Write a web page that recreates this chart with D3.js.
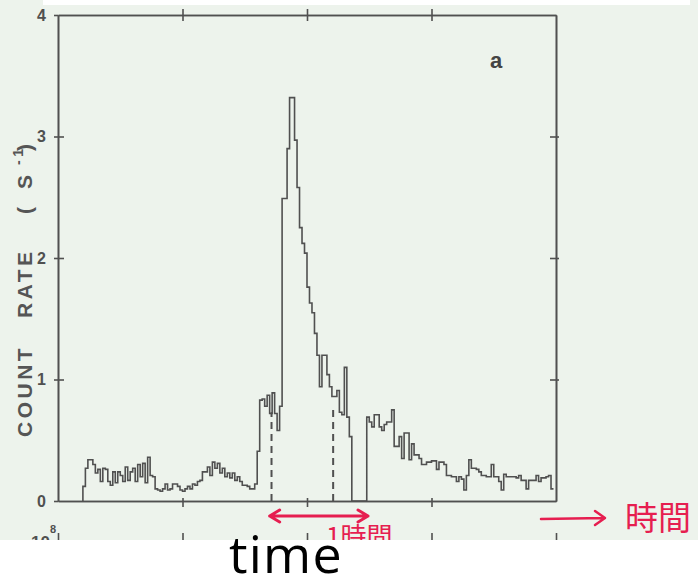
<!DOCTYPE html>
<html>
<head>
<meta charset="utf-8">
<style>
body { margin: 0; background: #fff; }
svg { display: block; }
</style>
</head>
<body>
<svg width="698" height="577"></svg>
<script src="https://cdn.jsdelivr.net/npm/d3@7/dist/d3.min.js"></script>
<script>
var width = 698, height = 577;
var ink = "#505050", red = "#e61e50";

// count rate (s^-1) per time bin, bins of 0.02 starting at t = 0.2
var binStart = 0.2, binWidth = 0.02;
var rates = [
  0.12,0.27,0.34,0.34,0.30,0.23,0.26,0.16,0.27,0.26,
  0.16,0.13,0.24,0.15,0.24,0.21,0.16,0.28,0.17,0.24,
  0.27,0.16,0.30,0.20,0.31,0.15,0.36,0.21,0.20,0.10,
  0.09,0.08,0.10,0.14,0.09,0.10,0.14,0.14,0.12,0.09,
  0.08,0.10,0.12,0.10,0.14,0.13,0.16,0.17,0.24,0.24,
  0.28,0.21,0.32,0.27,0.31,0.23,0.27,0.20,0.23,0.19,
  0.23,0.17,0.20,0.16,0.13,0.13,0.12,0.10,0.10,0.14,
  0.41,0.83,0.84,0.78,0.87,0.72,0.89,0.72,0.58,0.78,
  2.49,2.49,2.90,3.32,3.32,2.97,2.58,2.25,2.12,2.04,
  1.76,1.63,1.55,1.38,1.20,0.94,1.20,1.20,1.04,0.94,
  0.86,0.86,0.91,0.73,0.71,1.10,0.69,0.53,0,0,
  0,0,0,0,0.69,0.65,0.61,0.71,0.71,0.61,
  0.58,0.63,0.65,0.65,0.75,0.45,0.45,0.53,0.35,0.56,
  0.56,0.34,0.47,0.38,0.38,0.35,0.30,0.30,0.32,0.32,
  0.33,0.33,0.26,0.32,0.32,0.30,0.21,0.21,0.20,0.20,
  0.16,0.20,0.18,0.09,0.21,0.34,0.27,0.27,0.26,0.24,
  0.21,0.21,0.20,0.20,0.30,0.20,0.20,0.16,0.09,0.22,
  0.20,0.20,0.20,0.20,0.19,0.21,0.17,0.17,0.10,0.17,
  0.17,0.17,0.21,0.16,0.19,0.19,0.20,0.21,0.10
];
var yTicks = [0, 1, 2, 3, 4];
var xTicks = [1, 2, 3];
// dashed markers: time and height
var dashTimes = [1.715, 2.21];
var dashTops = [0.73, 0.77];
// 1 hour span (red annotation)
var hourSpan = [1.70, 2.49];

var svg = d3.select("svg");

var x = d3.scaleLinear().domain([0, 4]).range([58, 556]);
var y = d3.scaleLinear().domain([0, 4]).range([501, 15]);

// scanned page background
svg.append("rect").attr("width", width).attr("height", height).attr("fill", "#edf3ec");
svg.append("rect").attr("x", 43).attr("y", 0).attr("width", 647).attr("height", 5).attr("fill", "#fff");

// histogram as a step line
var pts = [{t: binStart, r: 0}];
rates.forEach(function(r, i) { pts.push({t: binStart + i * binWidth, r: r}); });
pts.push({t: binStart + rates.length * binWidth, r: rates[rates.length - 1]});

var line = d3.line()
  .x(function(d) { return x(d.t); })
  .y(function(d) { return y(d.r); })
  .curve(d3.curveStepAfter);

svg.append("path")
  .datum(pts)
  .attr("d", line)
  .attr("fill", "none")
  .attr("stroke", ink)
  .attr("stroke-width", 1.6);

// dashed markers
svg.selectAll(".dash")
  .data(dashTimes)
  .enter().append("line")
  .attr("class", "dash")
  .attr("x1", function(d) { return x(d); })
  .attr("x2", function(d) { return x(d); })
  .attr("y1", y(0))
  .attr("y2", function(d, i) { return y(dashTops[i]); })
  .attr("stroke", ink)
  .attr("stroke-width", 2)
  .attr("stroke-dasharray", "7,5");

// frame with crossing ticks
function styleAxis(g) {
  g.selectAll("path, line").attr("stroke", ink).attr("stroke-width", 1.6);
  g.selectAll("text").attr("fill", ink);
}

svg.append("g").attr("transform", "translate(58,0)")
  .call(d3.axisLeft(y).tickValues(yTicks).tickFormat(d3.format("d")).tickSize(4).tickPadding(8).tickSizeOuter(0))
  .call(styleAxis)
  .call(function(g) {
    g.selectAll("text").attr("font-family", "Liberation Sans, Arial, sans-serif")
      .attr("font-weight", "bold").attr("font-size", 16);
  });
svg.append("g").attr("transform", "translate(58,0)")
  .call(d3.axisRight(y).tickValues(yTicks.slice(1, 4)).tickSize(6).tickFormat("").tickSizeOuter(0))
  .call(styleAxis);

svg.append("g").attr("transform", "translate(556,0)")
  .call(d3.axisLeft(y).tickValues(yTicks.slice(1, 4)).tickSize(6).tickFormat("").tickSizeOuter(0))
  .call(styleAxis);
svg.append("g").attr("transform", "translate(556,0)")
  .call(d3.axisRight(y).tickValues(yTicks.slice(1, 4)).tickSize(3).tickFormat("").tickSizeOuter(0))
  .call(styleAxis);

svg.append("g").attr("transform", "translate(0,501)")
  .call(d3.axisBottom(x).tickValues(xTicks).tickSize(6).tickFormat("").tickSizeOuter(0))
  .call(styleAxis);
svg.append("g").attr("transform", "translate(0,501)")
  .call(d3.axisTop(x).tickValues(xTicks).tickSize(3).tickFormat("").tickSizeOuter(0))
  .call(styleAxis);

svg.append("g").attr("transform", "translate(0,15)")
  .call(d3.axisTop(x).tickValues(xTicks).tickSize(6).tickFormat("").tickSizeOuter(0))
  .call(styleAxis);
svg.append("g").attr("transform", "translate(0,15)")
  .call(d3.axisBottom(x).tickValues(xTicks).tickSize(6).tickFormat("").tickSizeOuter(0))
  .call(styleAxis);

// panel label
svg.append("text")
  .attr("x", x(3.52)).attr("y", 68)
  .attr("text-anchor", "middle")
  .attr("font-family", "Liberation Sans, Arial, sans-serif")
  .attr("font-weight", "bold").attr("font-size", 22)
  .attr("fill", "#444")
  .text("a");

// y axis title, letter-spaced and rotated
var yTitle = [
  {s: "COUNT", pos: 437, size: 21, dx: 0},
  {s: "RATE", pos: 318, size: 21, dx: 0},
  {s: "(", pos: 214, size: 21, dx: 0},
  {s: "S", pos: 189, size: 21, dx: 0},
  {s: "-1", pos: 165, size: 14, dx: -9},
  {s: ")", pos: 151, size: 21, dx: 0}
];
svg.selectAll(".ytitle")
  .data(yTitle)
  .enter().append("text")
  .attr("class", "ytitle")
  .attr("transform", function(d) { return "translate(" + (32 + d.dx) + "," + d.pos + ") rotate(-90)"; })
  .attr("font-family", "Liberation Sans, Arial, sans-serif")
  .attr("font-weight", "bold")
  .attr("font-size", function(d) { return d.size; })
  .attr("letter-spacing", 3.5)
  .attr("fill", "#555")
  .text(function(d) { return d.s; });

// top of the lower panel (cut off)
svg.append("g").attr("transform", "translate(0,541)")
  .call(d3.axisTop(x).tickValues([0, 1, 2, 3, 4]).tickSize(8).tickFormat("").tickSizeOuter(0))
  .call(styleAxis)
  .call(function(g) { g.select(".domain").remove(); });
svg.append("text").attr("x", 50).attr("y", 548).attr("text-anchor", "end")
  .attr("font-family", "Liberation Sans, Arial, sans-serif").attr("font-weight", "bold")
  .attr("font-size", 17).attr("fill", ink).text("10");
svg.append("text").attr("x", 50).attr("y", 533)
  .attr("font-family", "Liberation Sans, Arial, sans-serif").attr("font-weight", "bold")
  .attr("font-size", 11).attr("fill", ink).text("8");

// red handwritten notes
var ay = 516;
var x0 = x(hourSpan[0]), x1 = x(hourSpan[1]);
svg.append("path")
  .attr("d", "M" + x0 + "," + ay + "L" + x1 + "," + ay +
    "M" + (x0 + 10) + "," + (ay - 6) + "L" + x0 + "," + ay + "L" + (x0 + 10) + "," + (ay + 6) +
    "M" + (x1 - 10) + "," + (ay - 6) + "L" + x1 + "," + ay + "L" + (x1 - 10) + "," + (ay + 6))
  .attr("fill", "none").attr("stroke", red).attr("stroke-width", 3)
  .attr("stroke-linecap", "round").attr("stroke-linejoin", "round");
svg.append("defs").append("clipPath").attr("id", "scan")
  .append("rect").attr("x", 0).attr("y", 0).attr("width", width).attr("height", 540);
svg.append("text").attr("x", 326).attr("y", 546)
  .attr("clip-path", "url(#scan)")
  .attr("font-family", "Noto Sans CJK JP").attr("font-size", 26).attr("fill", red)
  .text("1時間");

svg.append("path")
  .attr("d", "M541,519L604,518M595,511L605,518L595,525")
  .attr("fill", "none").attr("stroke", red).attr("stroke-width", 2.5)
  .attr("stroke-linecap", "round").attr("stroke-linejoin", "round");
svg.append("text").attr("x", 625).attr("y", 530)
  .attr("font-family", "Noto Sans CJK JP").attr("font-size", 33).attr("fill", red)
  .text("時間");

// white slide area with caption
svg.append("rect").attr("x", 0).attr("y", 540).attr("width", width).attr("height", height - 540).attr("fill", "#fff");
svg.append("text").attr("x", 229).attr("y", 573)
  .attr("font-family", "Open Sans, sans-serif").attr("font-size", 52)
  .attr("letter-spacing", 1.2).attr("fill", "#000")
  .text("time");
</script>
</body>
</html>
